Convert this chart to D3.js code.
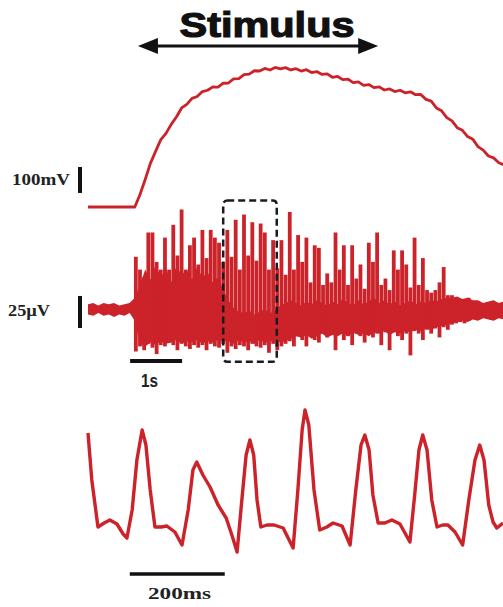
<!DOCTYPE html>
<html>
<head>
<meta charset="utf-8">
<script src="https://cdn.jsdelivr.net/npm/d3@7"></script>
<style>
  body { margin: 0; background: #fff; }
  svg { display: block; }
</style>
</head>
<body>
<svg width="503" height="607"></svg>
<script>
// Data

// stimulus window (s)
const stimulus = [0.96, 5.58];

// top trace: flat until topStart, then one value (mV) every 0.1 s
const topStart = 0.9;
const topStep = 0.1;
const topTrace = [
  0, 48, 106, 168, 214, 259, 283, 318, 346, 381, 395, 418, 425, 444, 449, 462, 461, 476, 477,
  493, 494, 509, 511, 524, 523, 533, 527, 537, 531, 536, 527, 532, 523, 528, 517, 521, 510,
  512, 499, 502, 490, 492, 478, 481, 468, 471, 459, 462, 450, 454, 444, 449, 439, 443, 432,
  433, 414, 407, 381, 370, 344, 331, 305, 295, 271, 261, 232, 219, 196, 189, 170, 162
];

// middle trace, dense core band (µV), one value every 0.1 s from 0 s
const coreStep = 0.1;
const coreUpper = [
  3, 4, 2, 4, 3, 4, 2, 3, 4,
  8,
  18, 30, 22, 34, 24, 31, 20, 33, 26, 30, 22, 32, 24, 28, 20, 24, 14,
  6, 0, -3, -4, -2, -5, -3, -1, -4, -2, 2, 4,
  6, 4, 2, 5, 3, 6, 4, 2, 5, 3, 7, 4, 2, 6, 3, 5, 8, 4, 6, 3, 5, 2, 4,
  6, 3, 5, 4, 6, 5, 7, 8,
  8, 9, 7, 8, 6, 6, 4, 5, 6, 4, 5
];
const coreLower = [
  -5, -6, -4, -6, -5, -7, -5, -6, -4,
  -10,
  -28, -30, -27, -29, -26, -28, -27, -25, -28, -26, -27, -25, -28, -26, -27, -25, -26,
  -26, -28, -25, -27, -26, -28, -25, -27, -26, -25, -27, -26,
  -24, -22, -23, -21, -24, -22, -20, -23, -21, -22, -20, -22, -19, -21, -20, -22, -19, -20,
  -18, -21, -19, -20, -18, -19, -17, -18, -16, -17, -15, -14, -13,
  -12, -11, -10, -11, -9, -10, -8, -9, -10, -8, -9
];

// middle trace, spike bars: one every 0.08 s from barStart, tip and foot (µV)
const barStart = 0.92;
const barStep = 0.08;
const spikeTop = [
  40, 30, 24, 59, 59, 36, 30, 55, 30, 65, 41, 77, 30, 49, 55, 34, 61, 39, 61, 55,
  51, 36, 61, 40, 69, 30, 73, 41, 67, 37, 66, 59, 30, 53, 31, 53, 26, 75, 30, 57,
  36, 55, 20, 49, 47, 18, 27, 20, 59, 30, 49, 18, 49, 23, 34, 15, 51, 36, 59, 18,
  23, 14, 45, 30, 45, 34, 16, 55, 18, 39, 14, 12, 14, 20, 32, 10, 10, 6, 6, 4, 8
];
const spikeFoot = [
  -34, -30, -33, -28, -31, -36, -29, -30, -27, -29, -33, -28, -30, -32, -29, -31, -29, -33,
  -28, -30, -31, -28, -35, -30, -32, -29, -30, -33, -28, -30, -31, -29, -35, -28, -33, -30,
  -28,
  -26, -30, -22, -25, -30, -21, -25, -27, -20, -23, -21, -33, -19, -25, -22, -29, -20, -22,
  -27, -18, -23, -20, -29, -19, -33, -18, -22, -25, -20, -37, -18, -20, -25, -17, -20, -16,
  -23, -15, -17, -13, -12, -11, -12, -10
];

// zoomed window on the middle trace: [t0, t1] s, [low, high] µV
const zoomBox = [[2.6, 3.63], [-42, 84]];

// bottom trace: [time ms, a.u.]
const botTrace = [
  [0, 122], [8, 75], [21, 28], [34, 32], [46, 35], [61, 31], [74, 21], [82, 17], [93, 45],
  [103, 95], [114, 125], [122, 110], [131, 65], [141, 28], [154, 28], [166, 29], [183, 23],
  [198, 10], [211, 45], [221, 85], [229, 93], [242, 80], [257, 68], [274, 50], [291, 37],
  [303, 20], [314, 3], [324, 55], [333, 100], [341, 115], [349, 100], [356, 55], [364, 28],
  [377, 30], [392, 30], [411, 27], [432, 7], [442, 65], [451, 125], [457, 145], [465, 130],
  [476, 65], [488, 25], [503, 28], [516, 32], [535, 29], [552, 10], [564, 65], [575, 110],
  [583, 120], [592, 105], [600, 60], [611, 32], [625, 32], [640, 35], [657, 31], [678, 13],
  [688, 60], [697, 105], [705, 120], [714, 105], [724, 55], [735, 28], [747, 30], [758, 30],
  [773, 23], [789, 10], [802, 55], [815, 95], [825, 110], [834, 95], [844, 50], [853, 33],
  [861, 27], [874, 32]
];

// scale bars
const barTop = [54, 154];     // 100 mV
const barMid = [-15.6, 9.4];  // 25 µV
const barTime = [0.81, 1.81]; // 1 s
const barMs = [88, 288];      // 200 ms

const red = '#cc2229';
const ink = '#111';

const svg = d3.select('svg');
svg.append('rect').attr('width', 503).attr('height', 607).attr('fill', '#fff');

const x = d3.scaleLinear().domain([0, 8]).range([88, 504]);
const yTop = d3.scaleLinear().domain([0, 600]).range([207, 51]);
const yMid = d3.scaleLinear().domain([-40, 80]).range([359.2, 205.6]);
const xBot = d3.scaleLinear().domain([0, 874]).range([88, 503]);
const yBot = d3.scaleLinear().domain([0, 150]).range([555, 405]);

// Stimulus label and arrow
svg.append('text')
  .attr('x', 267).attr('y', 37)
  .attr('text-anchor', 'middle')
  .attr('font-family', 'Liberation Sans, Arial, sans-serif')
  .attr('font-weight', 'bold')
  .attr('font-size', 35)
  .attr('textLength', 175).attr('lengthAdjust', 'spacingAndGlyphs')
  .attr('fill', ink).attr('stroke', ink).attr('stroke-width', 1.2)
  .text('Stimulus');

const ay = 46;
svg.append('line')
  .attr('x1', x(stimulus[0]) + 10).attr('x2', x(stimulus[1]) - 10)
  .attr('y1', ay).attr('y2', ay)
  .attr('stroke', ink).attr('stroke-width', 3);
svg.append('path')
  .attr('d', `M${x(stimulus[0])},${ay} L${x(stimulus[0]) + 20},${ay - 8} L${x(stimulus[0]) + 20},${ay + 8} Z`)
  .attr('fill', ink);
svg.append('path')
  .attr('d', `M${x(stimulus[1])},${ay} L${x(stimulus[1]) - 20},${ay - 8} L${x(stimulus[1]) - 20},${ay + 8} Z`)
  .attr('fill', ink);

// Top trace
const topPoints = [[0, 0]].concat(topTrace.map((v, i) => [topStart + i * topStep, v]));
svg.append('path')
  .datum(topPoints)
  .attr('d', d3.line().x(d => x(d[0])).y(d => yTop(d[1])))
  .attr('fill', 'none').attr('stroke', red).attr('stroke-width', 2.8)
  .attr('stroke-linejoin', 'round');

// Middle trace: dense core band plus spike bars
svg.append('path')
  .datum(coreUpper.map((v, i) => [i * coreStep, v, coreLower[i]]))
  .attr('d', d3.area()
    .x(d => x(d[0])).y0(d => yMid(d[2])).y1(d => yMid(d[1])))
  .attr('fill', red);

svg.append('g').selectAll('line')
  .data(spikeTop.map((v, i) => [barStart + i * barStep, v, spikeFoot[i]]))
  .join('line')
  .attr('x1', d => x(d[0])).attr('x2', d => x(d[0]))
  .attr('y1', d => yMid(d[2])).attr('y2', d => yMid(d[1]))
  .attr('stroke', red).attr('stroke-width', 3.8);

// Dashed box
svg.append('rect')
  .attr('x', x(zoomBox[0][0])).attr('y', yMid(zoomBox[1][1]))
  .attr('width', x(zoomBox[0][1]) - x(zoomBox[0][0]))
  .attr('height', yMid(zoomBox[1][0]) - yMid(zoomBox[1][1]))
  .attr('rx', 4)
  .attr('fill', 'none').attr('stroke', '#1a1a22').attr('stroke-width', 2.5)
  .attr('stroke-dasharray', '7,4');

// Bottom trace
svg.append('path')
  .datum(botTrace)
  .attr('d', d3.line().x(d => xBot(d[0])).y(d => yBot(d[1])))
  .attr('fill', 'none').attr('stroke', red).attr('stroke-width', 3.4)
  .attr('stroke-linejoin', 'round');

// Scale bars
svg.append('line')
  .attr('x1', 80).attr('x2', 80)
  .attr('y1', yTop(barTop[0])).attr('y2', yTop(barTop[1]))
  .attr('stroke', ink).attr('stroke-width', 4);
svg.append('line')
  .attr('x1', 80).attr('x2', 80)
  .attr('y1', yMid(barMid[0])).attr('y2', yMid(barMid[1]))
  .attr('stroke', ink).attr('stroke-width', 4);
svg.append('line')
  .attr('x1', x(barTime[0])).attr('x2', x(barTime[1]))
  .attr('y1', 361).attr('y2', 361)
  .attr('stroke', ink).attr('stroke-width', 4);
svg.append('line')
  .attr('x1', xBot(barMs[0])).attr('x2', xBot(barMs[1]))
  .attr('y1', 574).attr('y2', 574)
  .attr('stroke', ink).attr('stroke-width', 3.5);

// Scale bar labels
const label = (tx, ty, str, len, family, size) => svg.append('text')
  .attr('x', tx).attr('y', ty)
  .attr('font-family', family)
  .attr('font-weight', 'bold')
  .attr('font-size', size)
  .attr('textLength', len).attr('lengthAdjust', 'spacingAndGlyphs')
  .attr('fill', '#222')
  .text(str);

label(12, 185, '100mV', 58, 'Liberation Serif, serif', 16);
label(8, 316, '25µV', 42, 'Liberation Serif, serif', 16);
label(141, 387, '1s', 17, 'Liberation Sans, Arial, sans-serif', 18);
label(148, 599, '200ms', 63, 'Liberation Serif, serif', 17);
</script>
</body>
</html>
